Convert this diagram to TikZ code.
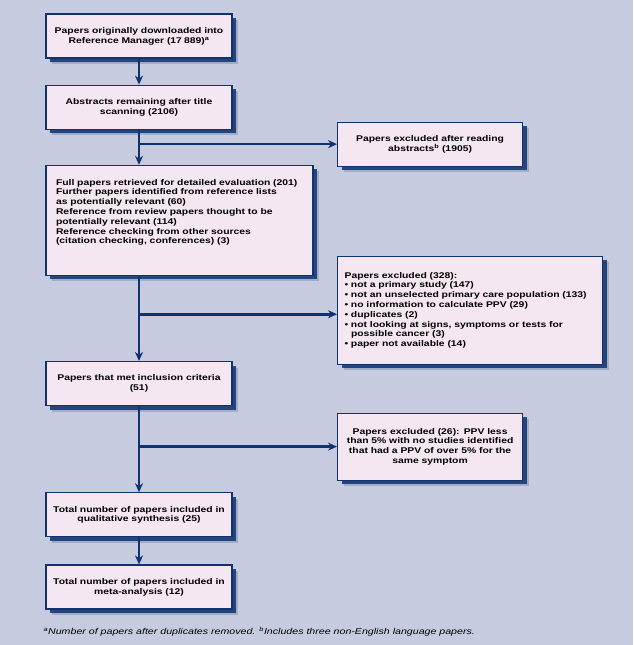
\documentclass[tikz,border=0pt]{standalone}
\usepackage{fontspec}
\setmainfont{Liberation Sans}[FakeStretch=1.25]
\usetikzlibrary{positioning, arrows.meta, shadows, calc}
\definecolor{navy}{RGB}{16,50,110}
\definecolor{boxpink}{RGB}{244,231,241}
\definecolor{bluegrey}{RGB}{198,203,224}
\tikzset{
>={Stealth[length=9pt,width=8pt]}, % arrow heads of the flow lines
every node/.style={font=\fontsize{8.3pt}{9.8pt}\selectfont\bfseries},
flowbox/.style={draw=navy, line width=1.2pt, fill=boxpink,
  drop shadow={shadow xshift=6pt, shadow yshift=-6pt, fill=navy, opacity=0.2},
  drop shadow={shadow xshift=4pt, shadow yshift=-4pt, fill=navy, opacity=0.85}},
mainbox/.style={flowbox, text width=176pt, inner xsep=5pt, minimum height=44pt, align=center},
widebox/.style={flowbox, text width=247pt, inner xsep=10pt, minimum height=110pt, align=left},
listbox/.style={flowbox, text width=251pt, inner xsep=7pt, minimum height=108pt, align=left},
sidebox/.style={mainbox, text width=175pt},
flow/.style={->, draw=navy, line width=2.6pt},
}

\begin{document}
\begin{tikzpicture}[x=1pt, y=1pt]
  \fill[bluegrey] (0,0) rectangle (633,-645);

  % main column
  \node[mainbox] (orig) at (139,-36) {Papers originally downloaded into\\Reference Manager (17\hspace{2pt}889)\textsuperscript{a}};
  \node[mainbox, below=26pt of orig] (abst) {Abstracts remaining after title\\scanning (2106)};
  \node[widebox, below=35pt of abst.south west, anchor=north west] (full) {Full papers retrieved for detailed evaluation (201)\\
    Further papers identified from reference lists\\
    as potentially relevant (60)\\
    Reference from review papers thought to be\\
    potentially relevant (114)\\
    Reference checking from other sources\\
    (citation checking, conferences) (3)\rule[-18pt]{0pt}{18pt}};
  \node[mainbox, below=85pt of full.south west, anchor=north west] (incl) {Papers that met inclusion criteria\\(51)};
  \node[mainbox, below=86pt of incl] (qual) {Total number of papers included in\\qualitative synthesis (25)};
  \node[mainbox, below=27pt of qual] (meta) {Total number of papers included in\\meta-analysis (12)};

  % branch points
  \coordinate (j1) at ($(abst.south)!0.41!(abst.south |- full.north)$);
  \coordinate (j2) at ($(full.south -| abst.south)!0.45!(incl.north)$);
  \coordinate (j3) at ($(incl.south)!0.47!(qual.north)$);

  % excluded papers
  \node[sidebox, right=198pt of j1] (exabs) {Papers excluded after reading\\abstracts\textsuperscript{b} (1905)};
  \node[listbox, right=198pt of j2, yshift=4pt] (exlist) {Papers excluded (328):\\
    \textbullet\ not a primary study (147)\\
    \textbullet\ not an unselected primary care population (133)\\
    \textbullet\ no information to calculate PPV (29)\\
    \textbullet\ duplicates (2)\\
    \textbullet\ not looking at signs, symptoms or tests for\\
    \phantom{\textbullet\ }possible cancer (3)\\
    \textbullet\ paper not available (14)};
  \node[sidebox, minimum height=67pt, right=198pt of j3] (exppv) {Papers excluded (26): PPV less\\than 5\% with no studies identified\\that had a PPV of over 5\% for the\\same symptom};

  \draw[flow] (orig) -- (abst);
  \draw[flow] (abst.south) -- (abst.south |- full.north);
  \draw[flow] (j1) -- (exabs);
  \draw[flow] (full.south -| abst.south) -- (incl);
  \draw[flow] (j2) -- (j2 -| exlist.west);
  \draw[flow] (incl) -- (qual);
  \draw[flow] (j3) -- (exppv);
  \draw[flow] (qual) -- (meta);

  \node[font=\fontsize{8.5pt}{10pt}\selectfont\itshape, anchor=west] (note) at (40,-632)
    {\textsuperscript{a}Number of papers after duplicates removed. \textsuperscript{b}Includes three non-English language papers.};
\end{tikzpicture}
\end{document}
